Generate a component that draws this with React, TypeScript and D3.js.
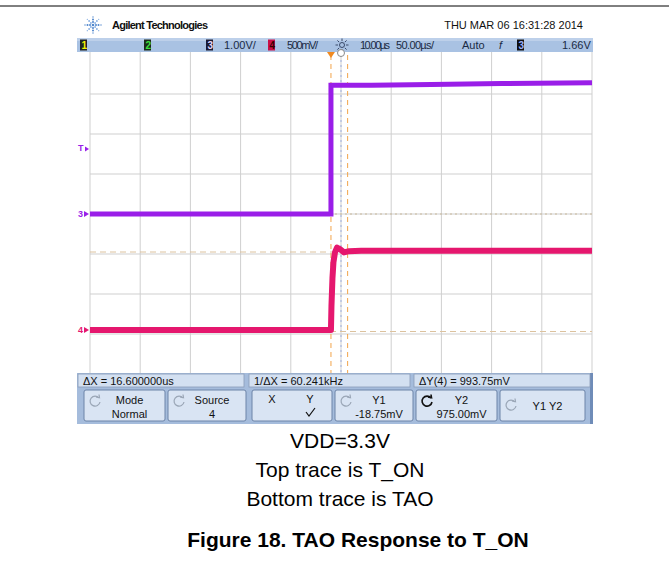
import { scaleLinear, line, range } from 'd3';

// horizontal 50us/div with 10us delay -> screen spans -240..260 us around the trigger
const timeDomain = [-240, 260];
const divTimes = range(-240, 261, 50);
const divVolts = range(-4, 5); // ch3 divisions, 1.00V/div

// channel 3 (T_ON), volts
const tonTime = [-240, 0, 0, 40, 100, 170, 260];
const tonVolts = [0, 0, 3.22, 3.22, 3.24, 3.26, 3.28];

// channel 4 (TAO), volts
const taoTime = [-240, 0, 0.5, 1.5, 2.5, 4, 6, 9, 13, 18, 30, 260];
const taoVolts = [0, 0, 0.3, 0.65, 0.85, 0.97, 1.03, 1.01, 0.97, 0.985, 0.99, 0.99];

const cursorTimes = [0, 16.6];
const cursorVolts = [-0.01875, 0.975];
const trigLevel = 1.66;

const headerTitle = 'Agilent Technologies';
const headerDate = 'THU MAR 06 16:31:28 2014';
const measureLabels = ['\u0394X = 16.600000us', '1/\u0394X = 60.241kHz', '\u0394Y(4) = 993.75mV'];
const softkeyTop = ['Mode', 'Source', '', 'Y1', 'Y2', 'Y1 Y2'];
const softkeyBottom = ['Normal', '4', '', '-18.75mV', '975.00mV', ''];
const captionLines = ['VDD=3.3V', 'Top trace is T_ON', 'Bottom trace is TAO'];
const figureTitle = 'Figure 18. TAO Response to T_ON';

const SCREEN = 'Liberation Sans, Arial, sans-serif';

function Icon({ cx, cy, active }: { cx: number; cy: number; active?: boolean }) {
  const c = active ? '#111' : '#9aa6b6';
  return (
    <g fill="none" stroke={c} strokeWidth={active ? 1.6 : 1.2}>
      <path d={`M${cx + 4},${cy - 3} A5,5 0 1 0 ${cx + 5},${cy + 1}`} />
      <path d={`M${cx + 1},${cy - 4} L${cx + 4.5},${cy - 3.2} L${cx + 4},${cy - 6.5}`} />
    </g>
  );
}

export default function App() {
  const x = scaleLinear().domain(timeDomain).range([90, 592]);
  const y3 = scaleLinear().domain([-4, 4]).range([374, 54]);
  const y4 = scaleLinear().domain([0, 1]).range([330, 250]);

  const tonLine = line<number>().x((_, i) => x(tonTime[i])).y(d => y3(d));
  const taoLine = line<number>().x((_, i) => x(taoTime[i])).y(d => y4(d));

  const keyX = [84, 168, 252, 335, 416, 500];
  const keyW = [81, 78, 80, 78, 81, 85];
  const fieldX = [[78, 244], [249, 410], [414, 590]];

  const rays = range(8).map(i => (i * Math.PI) / 4);

  return (
    <svg width={669} height={562} style={{ position: 'absolute', left: 0, top: 0, background: '#fff' }}>
      <line x1={0} x2={669} y1={6} y2={6} stroke="#000" strokeWidth={1} />

      {/* header */}
      <g>
        {rays.map((a, i) => (
          <g key={i} fill={i % 2 ? '#8fb4e4' : '#4f86cc'}>
            {[3, 5.5, 8].map(r => (
              <circle key={r} cx={93 + Math.cos(a) * r} cy={25 + Math.sin(a) * r} r={r === 8 ? 0.7 : 1} />
            ))}
          </g>
        ))}
        <circle cx={93} cy={25} r={1.3} fill="#4f86cc" />
        <text x={112} y={29} fontFamily={SCREEN} fontWeight="bold" fontSize={11} textLength={96} fill="#111">{headerTitle}</text>
        <text x={583} y={29} fontFamily={SCREEN} fontSize={11} textAnchor="end" fill="#111">{headerDate}</text>
      </g>

      {/* status bar */}
      <rect x={77} y={38} width={516} height={14} fill="#a9c2e3" />
      <rect x={77} y={38} width={516} height={3} fill="#bdd0ea" />
      <g fontFamily={SCREEN} fontSize={11} fill="#1b2a44">
        <rect x={80} y={39.5} width={7} height={11} fill="#222" />
        <text x={81.5} y={48.5} fontSize={10} fontWeight="bold" fill="#f2f200">1</text>
        <rect x={144} y={39.5} width={7} height={11} fill="#1c2a1c" />
        <text x={145.5} y={48.5} fontSize={10} fontWeight="bold" fill="#3ee03e">2</text>
        <rect x={206} y={39.5} width={7} height={11} fill="#1a1a33" />
        <text x={207.5} y={48.5} fontSize={10} fontWeight="bold" fill="#e6d8ff">3</text>
        <text x={224} y={49}>1.00V/</text>
        <rect x={268} y={39.5} width={7} height={11} fill="#c8104a" />
        <text x={269.5} y={48.5} fontSize={10} fontWeight="bold" fill="#300">4</text>
        <text x={287} y={49} textLength={31}>500mV/</text>
        <g stroke="#3a4a6a" strokeWidth={1}>
          <circle cx={342} cy={45} r={2.5} fill="none" />
          {rays.map((a, i) => (
            <line key={i} x1={342 + Math.cos(a) * 4} y1={45 + Math.sin(a) * 4} x2={342 + Math.cos(a) * 6.5} y2={45 + Math.sin(a) * 6.5} />
          ))}
        </g>
        <text x={360} y={49} textLength={30}>10.00µs</text>
        <text x={396} y={49} textLength={38}>50.00µs/</text>
        <text x={462} y={49}>Auto</text>
        <text x={499} y={49} fontStyle="italic">f</text>
        <rect x={517} y={39.5} width={7} height={11} fill="#111" />
        <text x={518.5} y={48.5} fontSize={10} fontWeight="bold" fill="#9ab0ff">3</text>
        <text x={562} y={49}>1.66V</text>
      </g>

      {/* graticule */}
      <g stroke="#cfcfcf" strokeWidth={1}>
        {divTimes.map(t => (
          <line key={t} x1={x(t)} x2={x(t)} y1={52} y2={374} />
        ))}
        {divVolts.slice(1, -1).map(v => (
          <line key={v} x1={90} x2={592} y1={y3(v)} y2={y3(v)} />
        ))}
      </g>
      <line x1={90} x2={592} y1={y3(0)} y2={y3(0)} stroke="#c9b89a" strokeDasharray="2,3" />
      <line x1={x(10)} x2={x(10)} y1={55} y2={374} stroke="#9fb0e0" strokeDasharray="2,3" />

      {/* cursors */}
      <g stroke="#f2a44a" strokeWidth={1} strokeDasharray="5,4">
        {cursorTimes.map(t => (
          <line key={t} x1={x(t)} x2={x(t)} y1={55} y2={374} />
        ))}
      </g>
      <g stroke="#dcc29e" strokeWidth={1} strokeDasharray="6,4">
        {cursorVolts.map(v => (
          <line key={v} x1={90} x2={592} y1={y4(v)} y2={y4(v)} />
        ))}
      </g>

      {/* traces */}
      <path d={tonLine(tonVolts) ?? ''} fill="none" stroke="#9a1ee8" strokeWidth={5} strokeLinejoin="miter" />
      <path d={taoLine(taoVolts) ?? ''} fill="none" stroke="#e5176e" strokeWidth={6} strokeLinejoin="round" />
      <line x1={x(0)} x2={x(0)} y1={y3(0)} y2={y3(3.22)} stroke="#9a1ee8" strokeWidth={1.5} />

      {/* markers */}
      <path d={`M${x(0) - 4},52 L${x(0) + 4},52 L${x(0)},58 Z`} fill="#f08a20" />
      <circle cx={x(10)} cy={53} r={3.5} fill="#fff" stroke="#8a8a8a" strokeWidth={1} />
      <g fontFamily={SCREEN} fontSize={9} fontWeight="bold">
        <text x={78} y={y3(trigLevel) + 3} fill="#9a1ee8">T</text>
        <path d={`M85,${y3(trigLevel) - 1} L89,${y3(trigLevel) + 1.5} L85,${y3(trigLevel) + 4} Z`} fill="#9a1ee8" />
        <text x={78} y={y3(0) + 3} fill="#9a1ee8">3</text>
        <path d={`M84,${y3(0) - 3} L89,${y3(0)} L84,${y3(0) + 3} Z`} fill="#9a1ee8" />
        <text x={78} y={y4(0) + 3} fill="#e5176e">4</text>
        <path d={`M84,${y4(0) - 3} L89,${y4(0)} L84,${y4(0) + 3} Z`} fill="#e5176e" />
      </g>

      {/* measurement line */}
      <rect x={77} y={373} width={516} height={51} fill="#a5bcdc" />
      <rect x={590} y={373} width={3} height={51} fill="#6f8cb8" />
      <g fontFamily={SCREEN} fontSize={11} fill="#111">
        {fieldX.map(([a, b], i) => (
          <g key={i}>
            <rect x={a} y={374} width={b - a} height={13} fill="#d3e0f1" stroke="#8a9cb8" strokeWidth={0.8} />
            <text x={a + 5} y={385}>{measureLabels[i]}</text>
          </g>
        ))}
      </g>

      {/* softkeys */}
      <g fontFamily={SCREEN} fontSize={11} fill="#111" textAnchor="middle">
        {keyX.map((kx, i) => (
          <g key={i}>
            <rect x={kx} y={390} width={keyW[i]} height={31} rx={2} fill="#d9e4f3" stroke="#6d84a8" strokeWidth={1} />
            {i !== 2 && <Icon cx={kx + 11} cy={i === 5 ? 405 : 401} active={i === 4} />}
            {softkeyBottom[i] ? (
              <>
                <text x={kx + keyW[i] / 2 + 5} y={404}>{softkeyTop[i]}</text>
                <text x={kx + keyW[i] / 2 + 5} y={418}>{softkeyBottom[i]}</text>
              </>
            ) : (
              i !== 2 && <text x={kx + keyW[i] / 2 + 5} y={410}>{softkeyTop[i]}</text>
            )}
          </g>
        ))}
        <text x={keyX[2] + 20} y={403}>X</text>
        <text x={keyX[2] + 58} y={403}>Y</text>
        <path d={`M${keyX[2] + 54},${412} L${keyX[2] + 57},${416} L${keyX[2] + 63},${408}`} fill="none" stroke="#111" strokeWidth={1.2} />
      </g>

      {/* caption */}
      <g fontFamily="Liberation Sans, Arial, sans-serif" fill="#000" textAnchor="middle">
        {captionLines.map((s, i) => (
          <text key={i} x={340} y={448 + i * 29} fontSize={21}>{s}</text>
        ))}
        <text x={358} y={547} fontSize={21} fontWeight="bold">{figureTitle}</text>
      </g>
    </svg>
  );
}
